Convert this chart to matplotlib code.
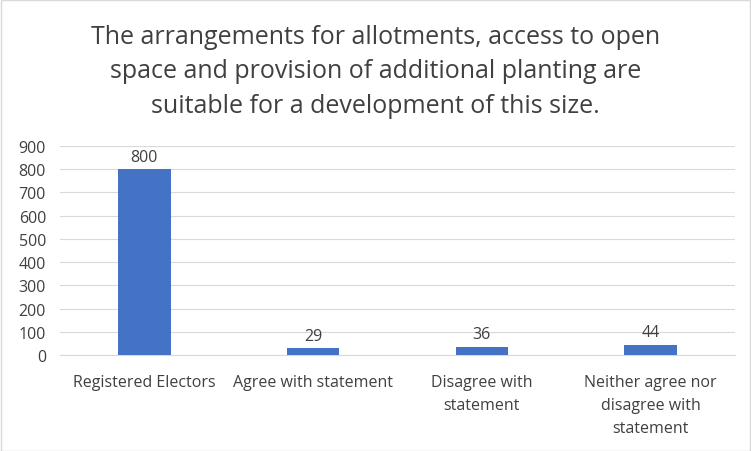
import matplotlib.pyplot as plt

categories = ["Registered Electors", "Agree with statement", "Disagree with\nstatement",
              "Neither agree nor\ndisagree with\nstatement"]
values = [800, 29, 36, 44]
y_ticks = [0, 100, 200, 300, 400, 500, 600, 700, 800, 900]

title = ("The arrangements for allotments, access to open\n"
         "space and provision of additional planting are\n"
         "suitable for a development of this size.")

plt.rcParams['font.family'] = ['Open Sans', 'DejaVu Sans']

fig = plt.figure(figsize=(7.51, 4.52), dpi=100)
ax = fig.add_axes([60 / 751, 1 - 356 / 452, 675 / 751, (356 - 147) / 452])

x = range(len(categories))
bars = ax.bar(x, values, width=0.31, color="#4472C4", zorder=3)
for b, v in zip(bars, values):
    ax.text(b.get_x() + b.get_width() / 2, v + 20, str(v), ha="center", va="bottom",
            fontsize=11.5, color="#404040")

ax.set_xlim(-0.5, len(categories) - 0.5)
ax.set_ylim(0, 900)
ax.set_yticks(y_ticks)
ax.set_xticks(list(x))
ax.set_xticklabels(categories, fontsize=11.5, color="#404040", va="top", linespacing=1.55)
ax.tick_params(axis="y", labelsize=11.5, colors="#404040", length=0, pad=10)
ax.tick_params(axis="x", length=0, pad=14)
ax.grid(axis="y", color="#D9D9D9", linewidth=0.8, zorder=0)
for s in ["top", "right", "left"]:
    ax.spines[s].set_visible(False)
ax.spines["bottom"].set_color("#D9D9D9")

fig.text(0.5, 1 - 72 / 452, title, ha="center", va="center", fontsize=18,
         color="#404040", linespacing=1.52)

fig.patches.append(plt.Rectangle((0.001, 0.001), 0.998, 0.997, transform=fig.transFigure,
                                 fill=False, edgecolor="#D9D9D9", linewidth=1))

fig.savefig("out.png", dpi=100)
